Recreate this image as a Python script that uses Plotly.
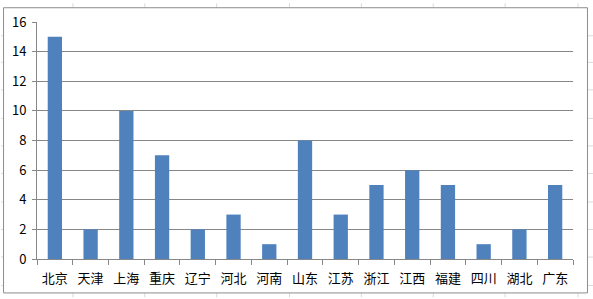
import plotly.graph_objects as go

provinces = ["北京", "天津", "上海", "重庆", "辽宁", "河北", "河南", "山东",
             "江苏", "浙江", "江西", "福建", "四川", "湖北", "广东"]
counts = [15, 2, 10, 7, 2, 3, 1, 8, 3, 5, 6, 5, 1, 2, 5]
y_ticks = [0, 2, 4, 6, 8, 10, 12, 14, 16]

W, H = 593, 299
L, R, T, B = 36, 20, 19, 39
PW, PH = W - L - R, H - T - B


def px(x):
    return (x - L) / PW


def py(y):
    return (H - B - y) / PH


fig = go.Figure(go.Bar(
    x=provinces, y=counts,
    marker=dict(color="#4F81BD", line=dict(width=0)),
))

shapes = []
# faint spreadsheet cell lines behind the chart
for gx in [72, 144, 216, 289, 361, 433, 505, 578]:
    shapes.append(dict(type="line", xref="paper", yref="paper", layer="below",
                       x0=px(gx), x1=px(gx), y0=py(0), y1=py(H),
                       line=dict(color="#dadada", width=1)))
for gy in [33, 60, 88, 117, 145, 173, 202, 230, 258, 287]:
    shapes.append(dict(type="line", xref="paper", yref="paper", layer="below",
                       x0=px(0), x1=px(W), y0=py(gy), y1=py(gy),
                       line=dict(color="#dadada", width=1)))
# white chart area with grey border
shapes.append(dict(type="rect", xref="paper", yref="paper", layer="below",
                   x0=px(2.5), x1=px(587.5), y0=py(4.5), y1=py(294.5),
                   fillcolor="white", line=dict(color="#8c8c8c", width=1)))

fig.update_layout(
    width=W, height=H,
    margin=dict(l=L, r=R, t=T, b=B),
    paper_bgcolor="white", plot_bgcolor="rgba(0,0,0,0)",
    bargap=0.6,
    showlegend=False,
    shapes=shapes,
    font=dict(family="Noto Sans CJK SC, DejaVu Sans, sans-serif", size=13, color="#000"),
)
fig.update_xaxes(
    showline=True, linecolor="#878787", linewidth=1,
    ticks="outside", tickson="boundaries", ticklen=5, tickcolor="#878787",
    showgrid=False, ticklabelstandoff=7,
)
fig.update_yaxes(
    range=[0, 16], tickvals=y_ticks,
    showline=True, linecolor="#878787", linewidth=1,
    ticks="outside", ticklen=4, tickcolor="#878787",
    showgrid=True, gridcolor="#878787", gridwidth=1,
    zeroline=False, ticklabelstandoff=3,
)

fig.write_html("out.html")
